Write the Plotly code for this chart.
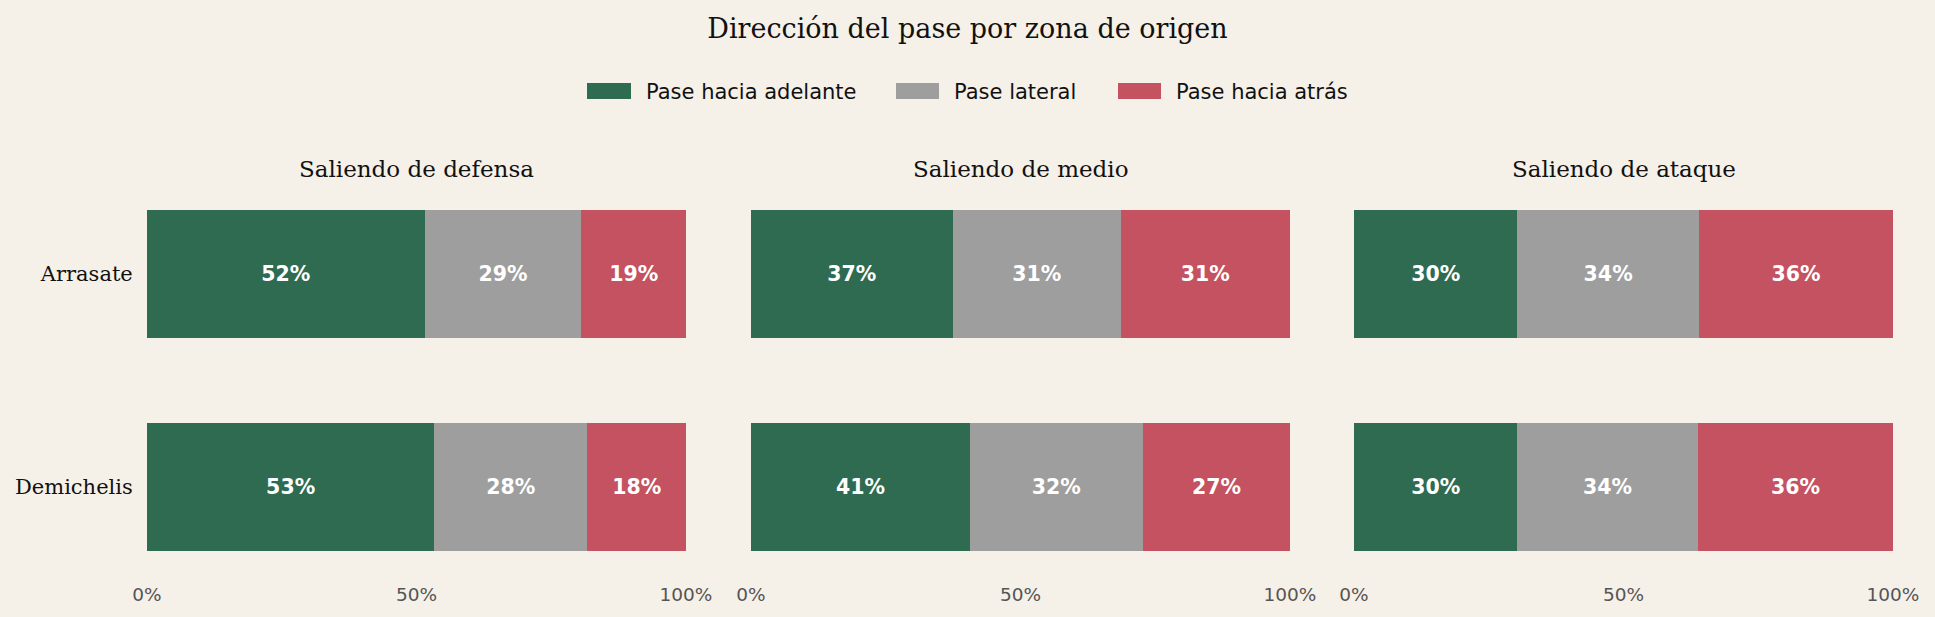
import plotly.graph_objects as go
from plotly.subplots import make_subplots

# ---- data ----
zonas = ["Saliendo de defensa", "Saliendo de medio", "Saliendo de ataque"]
jugadores = ["Arrasate", "Demichelis"]
series = ["Pase hacia adelante", "Pase lateral", "Pase hacia atrás"]

adelante_defensa = [51.5, 53.3]
lateral_defensa = [29.1, 28.4]
atras_defensa = [19.4, 18.3]

adelante_medio = [37.4, 40.6]
lateral_medio = [31.2, 32.1]
atras_medio = [31.4, 27.3]

adelante_ataque = [30.3, 30.3]
lateral_ataque = [33.7, 33.5]
atras_ataque = [36.0, 36.2]

tick_vals = [0, 50, 100]
tick_text = ["0%", "50%", "100%"]

# ---- style ----
colores = ["#2e6b50", "#9e9e9e", "#c45260"]
BG = "#f5f0e8"
SERIF = "DejaVu Serif"
SANS = "DejaVu Sans"
W, H = 1935, 617

datos = [
    [adelante_defensa, lateral_defensa, atras_defensa],
    [adelante_medio, lateral_medio, atras_medio],
    [adelante_ataque, lateral_ataque, atras_ataque],
]

fig = make_subplots(rows=1, cols=3, shared_yaxes=False)

for ci, zona_vals in enumerate(datos):
    for si, vals in enumerate(zona_vals):
        fig.add_trace(
            go.Bar(
                x=vals,
                y=jugadores,
                orientation="h",
                name=series[si],
                marker=dict(color=colores[si], line=dict(width=0)),
                width=0.6,
                texttemplate="%{x:.0f}%",
                textposition="inside",
                insidetextanchor="middle",
                textangle=0,
                textfont=dict(family=SANS, size=20.5, color="white", weight="bold"),
                showlegend=False,
                hoverinfo="skip",
            ),
            row=1, col=ci + 1,
        )

# domains (pixel-derived)
x_domains = [(147, 686), (751, 1290), (1354, 1893)]
y_top, y_bot = 193.0, 567.8

for ci in range(3):
    xa = "xaxis" if ci == 0 else f"xaxis{ci+1}"
    ya = "yaxis" if ci == 0 else f"yaxis{ci+1}"
    fig.layout[xa].update(
        domain=[x_domains[ci][0] / W, x_domains[ci][1] / W],
        range=[0, 100],
        tickvals=tick_vals,
        ticktext=tick_text,
        showgrid=False,
        zeroline=False,
        showline=False,
        automargin=False,
        ticks="outside",
        ticklen=10,
        tickcolor="rgba(0,0,0,0)",
        tickfont=dict(family=SANS, size=18.5, color="#555555"),
    )
    fig.layout[ya].update(
        domain=[1 - y_bot / H, 1 - y_top / H],
        type="category",
        categoryorder="array",
        categoryarray=jugadores,
        range=[1.38, -0.38],
        showgrid=False,
        zeroline=False,
        showline=False,
        automargin=False,
        showticklabels=(ci == 0),
        ticks="outside" if ci == 0 else "",
        ticklen=9,
        tickcolor="rgba(0,0,0,0)",
        tickfont=dict(family=SERIF, size=21, color="#111111"),
    )
    fig.add_annotation(
        text=zonas[ci],
        x=(x_domains[ci][0] + x_domains[ci][1]) / 2 / W,
        y=1 - 169 / H,
        xref="paper", yref="paper",
        xanchor="center", yanchor="middle",
        showarrow=False,
        font=dict(family=SERIF, size=23, color="#111111"),
    )

# custom legend (wide swatches like the reference)
legend_swatch_x = [(587, 631), (896, 939), (1118, 1161)]
for si in range(3):
    x0, x1 = legend_swatch_x[si]
    fig.add_shape(
        type="rect", xref="paper", yref="paper",
        x0=x0 / W, x1=x1 / W, y0=1 - 99 / H, y1=1 - 83 / H,
        fillcolor=colores[si], line=dict(width=0),
    )
    fig.add_annotation(
        text=series[si],
        x=(x1 + 12.5) / W, y=1 - 92 / H,
        xref="paper", yref="paper",
        xanchor="left", yanchor="middle",
        showarrow=False,
        font=dict(family=SANS, size=21, color="#111111"),
    )

fig.update_layout(
    width=W, height=H, autosize=False,
    margin=dict(l=0, r=0, t=0, b=0),
    barmode="stack",
    paper_bgcolor=BG,
    plot_bgcolor=BG,
    showlegend=False,
    title=dict(
        text="Dirección del pase por zona de origen",
        x=0.5, xanchor="center",
        y=1 - 29 / H, yanchor="middle",
        font=dict(family=SERIF, size=27, color="#111111"),
    ),
)

fig.write_html("out.html")
